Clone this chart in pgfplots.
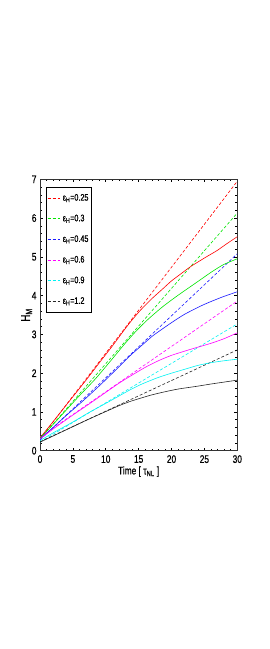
\documentclass[border=0pt]{standalone}
\usepackage{fontspec}
\setmainfont{Liberation Sans}[FakeStretch=0.76, FakeBold=0.6]
\usepackage{pgfplots}
\pgfplotsset{compat=1.18}
\definecolor{myred}{rgb}{1,0,0}
\definecolor{mygreen}{rgb}{0,0.9,0}
\definecolor{myblue}{rgb}{0.1,0.1,1}
\definecolor{mymag}{rgb}{1,0,1}
\definecolor{mycyan}{rgb}{0,0.95,0.95}
\definecolor{myblack}{rgb}{0.15,0.15,0.15}
\begin{document}
\begin{tikzpicture}
\path[use as bounding box] (0pt,0pt) rectangle (270pt,649pt);
\begin{axis}[
  scale only axis, width=197.3pt, height=271.4pt,
  at={(40pt,198.3pt)}, anchor=south west,
  xmin=0, xmax=30, ymin=0, ymax=7,
  xtick={0,5,...,30}, ytick={0,1,...,7},
  minor x tick num=4, minor y tick num=4,
  tick align=inside, tick pos=both,
  major tick length=3pt, minor tick length=1.8pt,
  every tick/.style={black, line width=0.6pt},
  axis line style={line width=0.8pt, black!80},
  /pgf/number format/assume math mode=true,
  tick label style={font=\fontsize{11}{12}\selectfont},
  xticklabel style={yshift=-1pt},
  xlabel={Time [ τ\textsubscript{NL} ]},
  xlabel style={font=\fontsize{11}{12}\selectfont, at={(axis description cs:0.5,-0.077)}, anchor=center},
  ylabel={H\textsubscript{M}},
  ylabel style={font=\fontsize{13}{14}\selectfont, at={(axis description cs:-0.068,0.5)}, anchor=center},
  legend style={at={(0.03,0.973)}, anchor=north west, draw=black, line width=0.8pt,
    font=\fontsize{9.5}{10}\selectfont, row sep=8.5pt, inner xsep=1pt, inner ysep=5pt,
    cells={anchor=west}},
  legend image code/.code={\draw[#1, line width=0.7pt] (0cm,0cm) -- (0.45cm,0cm);},
  every axis plot/.append style={line width=0.6pt},
]
% dashed reference lines
\addplot[myred, dash pattern=on 3pt off 2pt] coordinates {(0,0.30) (30,6.95)};
\addlegendentry{ε\textsubscript{H}=0.25}
\addplot[mygreen, dash pattern=on 3pt off 2pt] coordinates {(0,0.30) (30,6.13)};
\addlegendentry{ε\textsubscript{H}=0.3}
\addplot[myblue, dash pattern=on 3pt off 2pt] coordinates {(0,0.28) (30,5.08)};
\addlegendentry{ε\textsubscript{H}=0.45}
\addplot[mymag, dash pattern=on 3pt off 2pt] coordinates {(0,0.35) (30,3.86)};
\addlegendentry{ε\textsubscript{H}=0.6}
\addplot[mycyan, dash pattern=on 3pt off 2pt] coordinates {(0,0.22) (30,3.27)};
\addlegendentry{ε\textsubscript{H}=0.9}
\addplot[myblack, dash pattern=on 3pt off 2pt] coordinates {(0,0.23) (30,2.60)};
\addlegendentry{ε\textsubscript{H}=1.2}
% solid curves
\addplot[myred, smooth, tension=0.4, forget plot] coordinates {(0,0.33) (2,0.75) (4,1.18) (7,1.82) (9.12,2.29) (11,2.70) (12.66,3.08) (13.7,3.31) (15.2,3.61) (17,3.92) (18.7,4.18) (20,4.38) (21.8,4.61) (23,4.76) (25.3,5.00) (26.9,5.16) (28.5,5.35) (30,5.52)};
\addplot[mygreen, smooth, tension=0.4, forget plot] coordinates {(0,0.32) (2,0.68) (4,1.05) (6,1.42) (8.25,1.82) (9.12,1.99) (11,2.37) (13,2.78) (14.7,3.10) (16.5,3.40) (18.7,3.72) (21,4.01) (23.8,4.34) (26,4.60) (27.9,4.80) (30,4.95)};
\addplot[myblue, smooth, tension=0.4, forget plot] coordinates {(0,0.30) (2,0.60) (4,0.91) (6.5,1.28) (9.12,1.69) (11.5,2.08) (13.7,2.45) (15.7,2.75) (17.2,2.97) (19.8,3.28) (22,3.52) (24.8,3.76) (27.5,3.95) (30,4.10)};
\addplot[mymag, smooth, tension=0.4, forget plot] coordinates {(0,0.30) (2,0.56) (5,0.92) (7,1.15) (9.12,1.40) (12,1.74) (14,1.95) (16,2.15) (18,2.32) (20,2.46) (23,2.62) (26,2.77) (28,2.89) (30,3.04)};
\addplot[mycyan, smooth, tension=0.4, forget plot] coordinates {(0,0.26) (2,0.46) (5,0.74) (7.5,0.99) (10,1.22) (12,1.41) (13.7,1.57) (15.5,1.72) (18,1.89) (20,2.00) (22,2.10) (24,2.20) (26,2.27) (28,2.32) (30,2.36)};
\addplot[myblack, smooth, tension=0.4, forget plot] coordinates {(0,0.22) (2,0.38) (5,0.62) (7.5,0.82) (10,1.01) (12,1.16) (13.7,1.27) (15.2,1.35) (17,1.44) (19,1.52) (21,1.59) (23.8,1.66) (26,1.72) (28,1.77) (30,1.82)};
\end{axis}
\end{tikzpicture}
\end{document}
